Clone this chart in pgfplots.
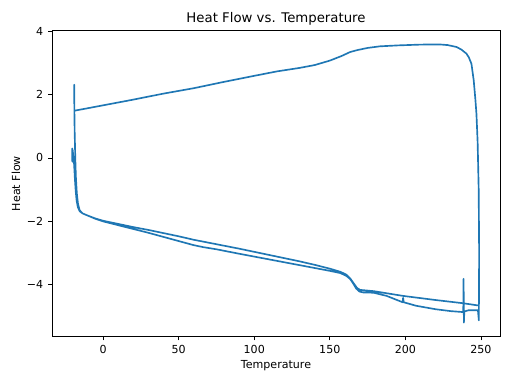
\documentclass[border=0pt]{standalone}
\usepackage{fontspec}
\setmainfont{DejaVu Sans}
\usepackage{pgfplots}
\pgfplotsset{compat=1.18}
\definecolor{mplblue}{HTML}{1F77B4}
\begin{document}
\begin{tikzpicture}
\begin{axis}[
  scale only axis,
  width=4.48in, height=3.06in,
  xmin=-33.8, xmax=262.6, ymin=-5.63, ymax=4.02,
  axis line style={line width=0.64pt},
  tick style={line width=0.64pt, black},
  tick align=outside, major tick length=2.8pt,
  xtick={0,50,100,150,200,250},
  ytick={-4,-2,0,2,4},
  yticklabels={−4,−2,0,2,4},
  xtick pos=bottom, ytick pos=left,
  /pgf/number format/assume math mode=true,
  ticklabel style={font=\fontsize{8}{9.6}\selectfont},
  label style={font=\fontsize{8}{9.6}\selectfont},
  xlabel style={yshift=2pt},
  ylabel style={yshift=-2pt},
  title style={font=\fontsize{9.6}{11.5}\selectfont, yshift=-6pt},
  title={Heat Flow vs. Temperature},
  xlabel={Temperature},
  ylabel={Heat Flow},
]
\addplot[color=mplblue, line width=1.2pt, line join=round] coordinates {
(-20.5,-0.10) (-20.4,0.30) (-20.2,-0.12) (-20.0,0.25) (-19.8,-0.10) (-19.5,0.05)
(-19.0,-0.35) (-18.6,-0.70) (-18.1,-1.05) (-17.5,-1.35) (-16.7,-1.55) (-15.5,-1.68)
(-13.5,-1.75) (-10,-1.82) (-5,-1.92) (0,-2.00) (10,-2.12) (20,-2.24) (30,-2.36)
(40,-2.49) (50,-2.62) (60,-2.75) (66,-2.81) (75,-2.88) (90,-3.02) (110,-3.20)
(130,-3.38) (140,-3.47) (150,-3.56) (157,-3.63) (161,-3.72) (163.5,-3.82) (165.5,-3.96)
(167.5,-4.12) (169.5,-4.21) (172,-4.24) (179,-4.25) (187.6,-4.35) (198.2,-4.55)
(198.5,-4.41) (198.9,-4.55) (207,-4.66) (220,-4.77) (230,-4.83) (238.3,-4.86)
(238.5,-3.81) (238.7,-5.19) (239.0,-4.84) (242,-4.80) (248.0,-4.80) (248.6,-5.12)
(248.8,-3.0) (248.5,-1.0) (247.8,0.5) (247.0,1.4) (246.3,1.85) (245.2,2.45)
(243.7,2.97) (242,3.17) (240.4,3.29) (237,3.42) (233.8,3.50) (228,3.56)
(222.7,3.58) (210,3.575) (195,3.55) (183,3.52) (175,3.47) (168,3.40) (163.4,3.34)
(158,3.22) (150,3.07) (140,2.93) (130,2.84) (115,2.73) (100,2.59) (80,2.40)
(60,2.20) (40,2.03) (20,1.84) (0,1.66) (-10,1.57) (-19.0,1.49) (-19.1,2.31)
(-19.0,1.5) (-18.8,0.8) (-18.4,0) (-18.0,-0.6) (-17.4,-1.1) (-16.6,-1.45)
(-15.5,-1.65) (-13.5,-1.75) (-10,-1.82) (-5,-1.91) (0,-1.98) (10,-2.08)
(20,-2.18) (30,-2.27) (40,-2.37) (50,-2.47) (60,-2.58) (75,-2.72) (90,-2.86)
(110,-3.06) (130,-3.26) (140,-3.37) (150,-3.49) (157,-3.59) (161,-3.68) (163.5,-3.80)
(165.6,-3.94) (168,-4.10) (170,-4.16) (179,-4.20) (198.5,-4.35) (220,-4.48)
(238,-4.58) (248,-4.65)
};
\end{axis}
\path (current axis.south west) ++(-0.52in,-0.47in) coordinate (bbsw);
\path (current axis.north east) ++(0.12in,0.305in) coordinate (bbne);
\useasboundingbox (bbsw) rectangle (bbne);
\end{tikzpicture}
\end{document}
